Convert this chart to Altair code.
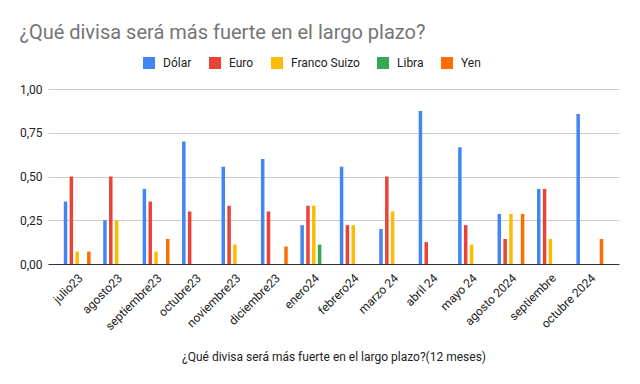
import altair as alt
import pandas as pd

categories = ["julio23", "agosto23", "septiembre23", "octubre23", "noviembre23",
              "diciembre23", "enero24", "febrero24", "marzo 24", "abril 24",
              "mayo 24", "agosto 2024", "septiembre", "octubre 2024"]
series = ["Dólar", "Euro", "Franco Suizo", "Libra", "Yen"]
colors = ["#4285F4", "#EA4335", "#FBBC04", "#34A853", "#FF6D01"]

dolar = [0.357, 0.25, 0.429, 0.70, 0.556, 0.60, 0.222, 0.556, 0.20, 0.875, 0.667, 0.286, 0.429, 0.857]
euro = [0.50, 0.50, 0.357, 0.30, 0.333, 0.30, 0.333, 0.222, 0.50, 0.125, 0.222, 0.143, 0.429, 0.0]
franco = [0.071, 0.25, 0.071, 0.0, 0.111, 0.0, 0.333, 0.222, 0.30, 0.0, 0.111, 0.286, 0.143, 0.0]
libra = [0.0, 0.0, 0.0, 0.0, 0.0, 0.0, 0.111, 0.0, 0.0, 0.0, 0.0, 0.0, 0.0, 0.0]
yen = [0.071, 0.0, 0.143, 0.0, 0.0, 0.10, 0.0, 0.0, 0.0, 0.0, 0.0, 0.286, 0.0, 0.143]

rows = []
for name, vals in zip(series, [dolar, euro, franco, libra, yen]):
    for c, v in zip(categories, vals):
        rows.append({"mes": c, "divisa": name, "valor": v})
df = pd.DataFrame(rows)

FONT = "Roboto"

chart = alt.Chart(df).transform_filter("datum.valor > 0").mark_bar().encode(
    x=alt.X("mes:N", sort=categories,
            scale=alt.Scale(paddingInner=0.32, paddingOuter=0.4),
            axis=alt.Axis(title="¿Qué divisa será más fuerte en el largo plazo?(12 meses)",
                          labelAngle=-45, labelFontSize=12, labelColor="#222222",
                          labelFont=FONT, ticks=False, labelPadding=8,
                          domainColor="#333333", titleFont=FONT, titleFontSize=12,
                          titleFontWeight="normal", titleColor="#222222", titlePadding=20)),
    xOffset=alt.XOffset("divisa:N", sort=series,
                        scale=alt.Scale(domain=series, paddingInner=0.4, paddingOuter=0)),
    y=alt.Y("valor:Q", scale=alt.Scale(domain=[0, 1]),
            axis=alt.Axis(title=None, values=[0, 0.25, 0.5, 0.75, 1],
                          labelExpr="replace(format(datum.value, '.2f'), '.', ',')",
                          labelFontSize=12, labelColor="#222222", labelFont=FONT,
                          ticks=False, domain=False, labelPadding=6,
                          gridColor="#cccccc")),
    color=alt.Color("divisa:N", sort=series,
                    scale=alt.Scale(domain=series, range=colors),
                    legend=alt.Legend(title=None, orient="none", direction="horizontal",
                                      legendX=95, legendY=-32, symbolType="square",
                                      symbolSize=144, symbolStrokeWidth=0,
                                      labelFontSize=12, labelFont=FONT,
                                      labelColor="#222222", columnPadding=17,
                                      labelOffset=8)),
).properties(
    width=571, height=175,
    title=alt.TitleParams("¿Qué divisa será más fuerte en el largo plazo?",
                          anchor="start", frame="bounds", font=FONT, fontSize=20,
                          fontWeight="normal", color="#757575", offset=14),
    padding={"left": 11, "top": 15, "right": 5, "bottom": 5},
).configure_view(stroke=None)

chart.save("out.html", embed_options={"renderer": "svg", "actions": False})
